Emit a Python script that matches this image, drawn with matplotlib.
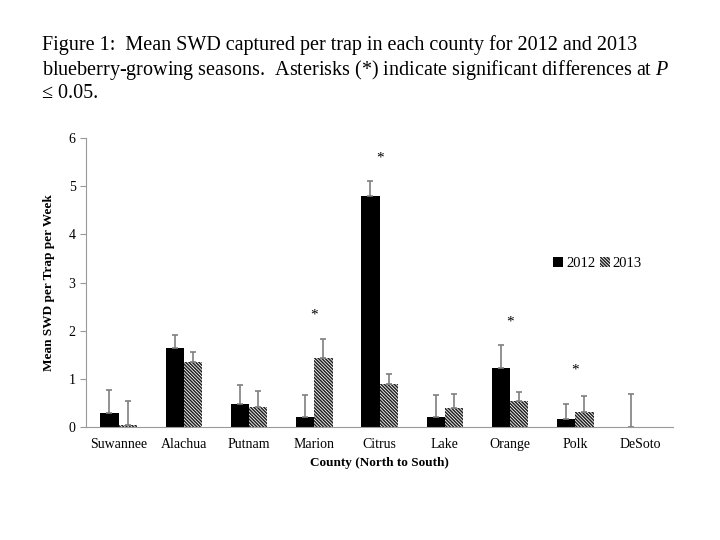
import numpy as np
import matplotlib.pyplot as plt

plt.rcParams['font.family'] = ['Liberation Serif', 'DejaVu Serif']
plt.rcParams['mathtext.fontset'] = 'custom'
plt.rcParams['mathtext.rm'] = 'Liberation Serif'
plt.rcParams['mathtext.it'] = 'Liberation Serif:italic'
plt.rcParams['hatch.linewidth'] = 1.1

counties = ['Suwannee', 'Alachua', 'Putnam', 'Marion', 'Citrus',
            'Lake', 'Orange', 'Polk', 'DeSoto']
mean_2012 = [0.29, 1.65, 0.48, 0.20, 4.80, 0.20, 1.22, 0.16, 0.0]
err_2012 = [0.48, 0.25, 0.40, 0.46, 0.30, 0.47, 0.49, 0.31, 0.68]
mean_2013 = [0.04, 1.35, 0.42, 1.44, 0.90, 0.40, 0.53, 0.32, 0.0]
err_2013 = [0.50, 0.20, 0.32, 0.38, 0.19, 0.28, 0.19, 0.32, 0.0]
stars = {'Marion': 2.32, 'Citrus': 5.58, 'Orange': 2.18, 'Polk': 1.18}

x = np.arange(len(counties))
w = 0.28

fig = plt.figure(figsize=(7.2, 5.4), dpi=100)
ax = fig.add_axes([0.1194, 0.2093, 0.8156, 0.5351])

ekw = dict(ecolor='#7f7f7f', elinewidth=1.2, capsize=2.5, capthick=1.2)
ax.bar(x - w/2, mean_2012, w, color='black', label='2012',
       yerr=[np.zeros(len(x)), err_2012], error_kw=ekw)
err13 = np.array(err_2013)
ax.bar(x + w/2, mean_2013, w, color='white', edgecolor='#222222', linewidth=0,
       hatch='\\' * 10, label='2013')
mask = err13 > 0
ax.errorbar((x + w/2)[mask], np.array(mean_2013)[mask],
            yerr=[np.zeros(mask.sum()), err13[mask]], fmt='none', **ekw)

for name, yv in stars.items():
    ax.text(counties.index(name), yv, '*', ha='center', va='center', fontsize=11)

ax.set_xlim(-0.5, len(x) - 0.5)
ax.set_ylim(0, 6)
ax.set_yticks(range(7))
ax.set_xticks(x)
ax.set_xticklabels(counties, fontsize=10)
ax.tick_params(axis='y', labelsize=10, length=4, color='#999999', width=0.8)
ax.tick_params(axis='x', length=0, pad=8)
for s in ['top', 'right']:
    ax.spines[s].set_visible(False)
for s in ['left', 'bottom']:
    ax.spines[s].set_color('#999999')
ax.set_xlabel('County (North to South)', fontsize=9.5, fontweight='bold', labelpad=4)
ax.set_ylabel('Mean SWD per Trap per Week', fontsize=9.5, fontweight='bold', labelpad=10)

ax.legend(loc='upper left', bbox_to_anchor=(0.783, 0.615), ncol=2, frameon=False,
          fontsize=10.5, handlelength=0.7, handleheight=0.7, handletextpad=0.2,
          columnspacing=0.3, borderpad=0)

fig.text(0.058, 0.935, 'Figure 1:  Mean SWD captured per trap in each county for 2012 and 2013\n'
         'blueberry-growing seasons.  Asterisks (*) indicate significant differences at $\\mathit{P}$\n'
         '\u2264 0.05.', ha='left', va='top', fontsize=14.5, linespacing=1.17)

fig.savefig('out.png', dpi=100)
